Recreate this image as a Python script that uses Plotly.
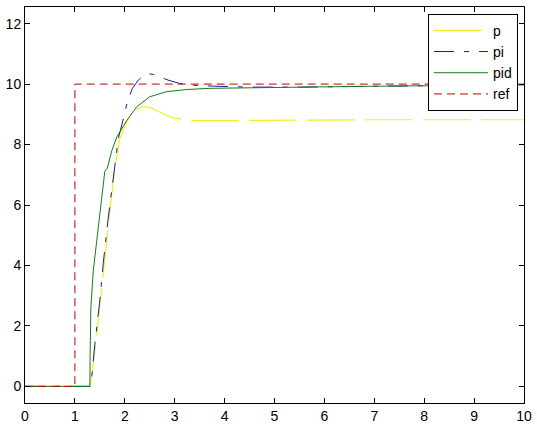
import plotly.graph_objects as go

# time / value samples
t_p = [0, 1.30, 1.34, 1.44, 1.54, 1.64, 1.74, 1.82, 1.90, 2.04, 2.14, 2.24, 2.34, 2.44, 2.54, 2.64, 2.77, 2.97, 3.20, 3.44, 3.84, 5.0, 7.0, 10.0]
v_p = [0, 0, 0.42, 1.74, 3.29, 4.94, 6.38, 7.40, 8.20, 8.75, 9.00, 9.17, 9.25, 9.25, 9.20, 9.12, 9.03, 8.88, 8.82, 8.79, 8.79, 8.81, 8.82, 8.82]

t_pi = [0, 1.30, 1.34, 1.40, 1.50, 1.57, 1.67, 1.77, 1.87, 1.97, 2.05, 2.15, 2.27, 2.37, 2.47, 2.57, 2.70, 2.87, 3.10, 3.40, 3.80, 4.50, 5.50, 6.50, 8.00, 10.0]
v_pi = [0, 0, 0.35, 1.40, 2.85, 4.10, 5.60, 7.00, 8.20, 8.85, 9.40, 9.85, 10.13, 10.28, 10.34, 10.32, 10.24, 10.13, 10.02, 9.96, 9.93, 9.90, 9.90, 9.92, 9.95, 9.98]

t_pid = [0, 1.30, 1.305, 1.32, 1.37, 1.44, 1.50, 1.55, 1.60, 1.65, 1.74, 1.84, 1.94, 2.04, 2.24, 2.50, 2.84, 3.24, 3.71, 4.50, 5.50, 7.00, 8.50, 10.0]
v_pid = [0, 0, 1.0, 2.6, 3.85, 4.85, 5.80, 6.40, 7.12, 7.22, 7.80, 8.25, 8.55, 8.80, 9.25, 9.58, 9.75, 9.82, 9.86, 9.88, 9.90, 9.93, 9.95, 9.97]

t_ref = [0, 1, 1, 10]
v_ref = [0, 0, 10, 10]

x_ticks = list(range(0, 11))
y_ticks = [0, 2, 4, 6, 8, 10, 12]

fig = go.Figure()
fig.add_trace(go.Scatter(x=t_p, y=v_p, mode="lines", name="p",
                         line=dict(color="#f0f020", width=1.2, dash="48px,10px")))
fig.add_trace(go.Scatter(x=t_pi, y=v_pi, mode="lines", name="pi",
                         line=dict(color="#1c1c9a", width=1, dash="20px,10px,5px,10px")))
fig.add_trace(go.Scatter(x=t_pid, y=v_pid, mode="lines", name="pid",
                         line=dict(color="#177d17", width=1)))
fig.add_trace(go.Scatter(x=t_ref, y=v_ref, mode="lines", name="ref",
                         line=dict(color="#c00000", width=1, dash="8px,5px")))

axis_common = dict(showline=True, linecolor="black", linewidth=1, mirror="ticks",
                   ticks="inside", ticklen=5, tickcolor="black", showgrid=False,
                   zeroline=False, automargin=False, tickfont=dict(size=14, color="black"))

fig.update_xaxes(range=[0, 10], tickvals=x_ticks, **axis_common)
fig.update_yaxes(range=[-0.55, 12.55], tickvals=y_ticks, **axis_common)

fig.update_layout(
    width=537, height=427,
    margin=dict(l=25, r=13, t=7, b=24),
    paper_bgcolor="white", plot_bgcolor="white",
    font=dict(family="Liberation Sans, Arial, sans-serif", size=14, color="black"),
    legend=dict(x=0.988, y=0.983, xanchor="right", yanchor="top",
                bordercolor="black", borderwidth=1, bgcolor="white",
                font=dict(size=14), itemwidth=54),
    showlegend=True,
)

fig.write_html("out.html", config={"displayModeBar": False},
               post_script="document.body.style.margin='0';document.body.style.padding='0';")
